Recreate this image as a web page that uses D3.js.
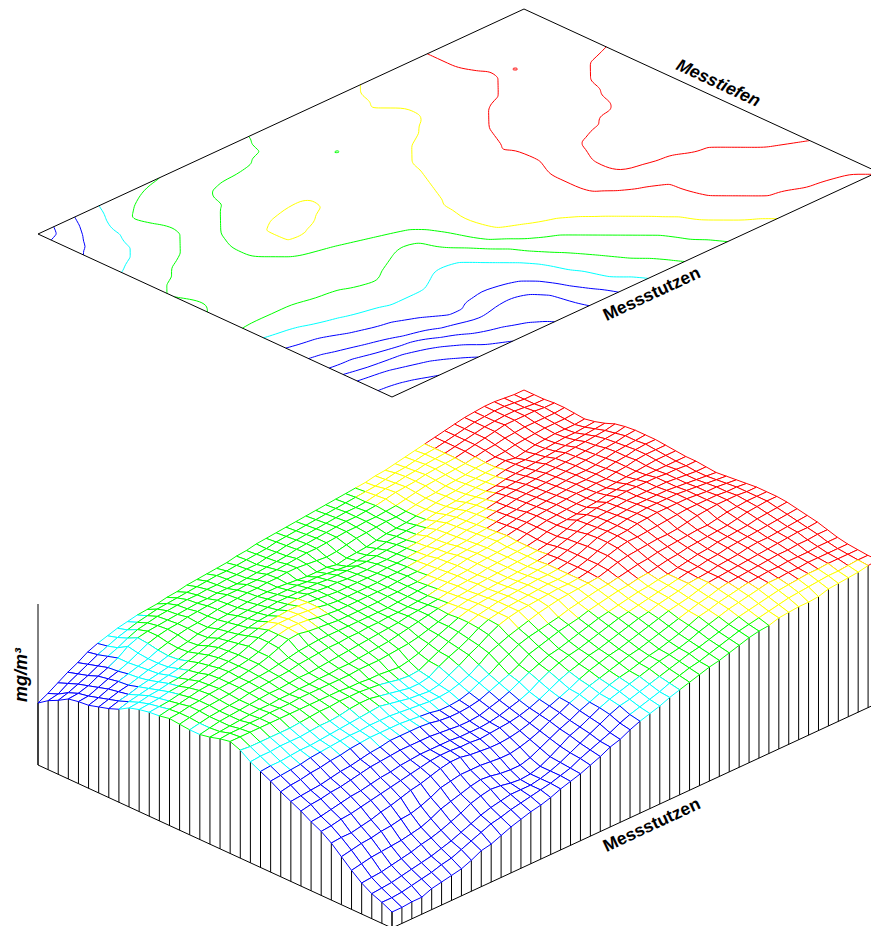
<!DOCTYPE html>
<html>
<head>
<meta charset="utf-8">
<style>
  body { margin: 0; background: #fff; overflow: hidden; }
  text { font-family: "Liberation Sans", Arial, sans-serif; font-weight: bold; font-size: 17.5px; fill: #000; }
</style>
<script src="https://cdn.jsdelivr.net/npm/d3@7"></script>
</head>
<body>
<div id="chart"></div>
<script>
// heights, one row per Messstutzen, one column per Messtiefe
var r0 = [62,67,73,79,84,90,94,97,100,102,104,105,106,108,109,111,112,113,114,115,117,118,120,121,122,123,124,125,126,127,128,129,130,131,133,134,136,138,140,142,144,146,148,150,151,152,152,151,150,150];
var r1 = [69,71,77,82,87,92,96,100,103,106,108,110,111,112,113,114,115,116,116,117,118,119,120,122,123,124,125,126,127,128,129,130,131,132,134,136,137,139,141,142,144,146,148,150,151,152,152,151,150,150];
var r2 = [74,77,81,85,90,95,99,104,108,110,112,113,114,115,115,116,116,117,117,118,118,120,121,123,124,125,126,127,128,129,129,130,132,134,135,137,138,140,141,142,144,146,148,150,151,152,152,151,150,150];
var r3 = [80,81,84,89,93,98,105,109,111,112,113,114,115,116,116,117,117,117,118,119,120,121,122,124,125,126,127,128,129,129,130,131,133,135,136,137,139,140,141,142,144,146,148,150,152,152,152,152,151,151];
var r4 = [82,83,87,91,94,98,103,108,111,113,114,116,117,118,119,120,120,121,121,122,122,123,124,125,125,126,127,128,128,129,129,130,131,133,135,137,138,139,140,141,143,145,146,148,149,150,150,150,150,151];
var r5 = [83,86,90,93,96,99,102,106,109,112,114,115,117,119,120,121,122,122,123,123,124,124,123,122,121,122,124,126,127,128,129,129,130,132,134,135,137,138,139,141,142,143,144,146,147,148,149,149,149,150];
var r6 = [86,89,92,94,97,100,102,105,108,110,113,115,118,119,121,122,123,123,123,122,121,120,120,120,118,120,121,122,124,126,127,128,130,132,134,136,137,139,140,141,142,144,142,144,146,147,148,148,148,149];
var r7 = [89,92,94,97,99,101,103,106,109,111,114,118,120,122,123,124,125,125,125,125,124,124,123,122,121,122,123,125,127,128,129,130,131,133,135,136,138,140,141,142,144,145,145,146,147,148,149,149,150,151];
var r8 = [93,96,98,100,102,104,106,109,112,115,118,120,122,124,125,126,127,127,127,127,127,126,126,126,126,126,127,128,129,129,130,132,134,136,137,139,140,141,142,144,145,146,147,148,149,150,151,152,153,154];
var r9 = [99,100,102,103,105,106,109,112,115,118,120,122,124,126,127,128,129,130,130,129,128,128,127,127,127,128,128,129,130,131,133,135,137,138,140,141,142,144,145,146,147,148,150,151,152,153,154,155,156,158];
var r10 = [102,103,104,106,107,109,111,114,117,119,122,125,128,130,131,132,132,131,130,129,128,128,128,128,128,129,129,130,131,132,134,136,138,139,141,142,144,146,147,148,149,150,151,152,153,154,155,157,158,160];
var r11 = [104,105,106,108,110,112,114,116,118,120,124,128,131,133,133,133,132,131,129,128,128,128,128,128,129,129,130,131,132,134,135,137,139,140,142,144,145,147,148,149,150,151,152,153,154,155,157,158,160,161];
var r12 = [105,107,108,110,112,113,115,117,118,120,123,128,131,133,133,132,130,129,128,128,128,128,128,128,129,130,130,132,134,135,137,138,140,141,143,145,146,148,149,150,151,152,153,153,154,156,158,159,160,161];
var r13 = [107,108,110,111,113,114,115,116,118,120,123,127,131,132,130,129,128,127,127,127,127,127,128,128,129,129,131,133,135,137,138,139,141,142,144,146,148,149,150,151,152,153,153,154,155,157,158,160,161,161];
var r14 = [106,108,110,111,112,113,115,116,117,118,120,122,124,125,126,126,126,126,126,126,126,126,127,128,129,130,132,134,136,138,139,140,142,143,145,147,149,150,151,152,153,153,154,154,156,157,159,160,160,160];
var r15 = [105,107,109,110,111,112,114,115,116,117,118,120,121,122,123,123,124,124,125,125,126,126,127,128,129,131,133,135,136,138,139,140,141,142,145,147,149,150,151,152,153,154,154,155,156,157,158,159,159,159];
var r16 = [105,107,109,110,111,112,113,114,114,115,116,116,117,118,119,120,121,122,123,124,125,127,128,129,130,132,134,135,136,138,139,140,141,142,144,147,149,150,151,153,154,156,157,158,158,158,158,158,158,158];
var r17 = [107,108,109,110,111,112,112,113,113,114,114,115,115,116,116,117,118,119,120,122,124,126,128,130,131,133,134,136,137,138,139,140,141,142,144,147,150,154,155,157,158,159,160,160,160,160,159,159,158,158];
var r18 = [110,111,111,112,112,113,113,113,114,114,114,114,114,114,115,115,115,116,117,118,120,123,126,129,132,134,135,136,137,138,139,140,141,143,146,149,152,155,157,158,159,160,160,160,160,160,159,158,157,157];
var r19 = [112,112,112,112,112,112,112,112,112,112,112,112,111,111,110,110,109,108,110,113,118,122,126,130,133,135,136,137,138,139,140,141,142,144,147,150,154,156,158,159,160,161,161,161,161,160,159,158,157,156];
var r20 = [108,107,107,107,107,107,108,109,110,110,111,111,111,110,109,107,105,104,105,110,115,120,125,130,133,135,137,138,139,140,141,141,142,144,147,151,155,157,158,160,161,162,162,162,162,161,160,159,158,157];
var r21 = [101,102,102,103,103,103,104,105,105,106,108,109,109,107,105,103,101,101,103,109,114,118,123,129,133,135,137,138,139,140,141,141,142,144,147,151,155,157,158,160,161,162,162,162,162,161,160,160,159,158];
var r22 = [96,97,97,98,99,99,100,101,102,103,104,105,106,104,102,100,99,98,100,105,110,116,121,127,132,135,137,138,139,140,141,141,142,144,147,151,154,156,156,157,158,159,160,161,161,161,161,160,160,159];
var r23 = [91,92,93,94,96,97,98,99,100,100,101,101,101,100,99,98,97,97,98,101,105,111,118,122,126,129,132,135,137,139,140,141,142,143,146,149,151,152,153,154,154,155,157,159,160,161,161,161,160,160];
var r24 = [85,87,88,90,91,93,94,96,97,98,98,98,98,97,96,95,93,93,94,97,102,106,112,117,122,125,127,129,131,134,136,138,140,141,143,145,147,148,150,151,152,153,154,154,156,158,159,160,160,160];
var r25 = [80,81,82,83,85,87,88,90,92,93,95,95,95,95,94,92,91,91,92,94,98,102,106,111,117,120,123,126,128,130,133,135,137,139,140,142,143,145,147,148,150,151,152,153,154,156,158,159,160,160];
var r26 = [75,77,78,80,81,83,85,87,88,89,90,90,90,90,89,88,87,87,88,91,94,98,103,108,112,116,118,121,124,127,130,132,134,136,138,139,141,142,144,146,148,149,151,152,153,154,156,157,158,159];
var r27 = [69,70,72,74,76,77,79,81,82,84,85,86,86,86,86,85,85,85,86,88,91,94,98,104,109,113,116,118,121,124,127,130,132,134,136,138,140,142,144,145,147,148,150,151,152,153,154,155,156,157];
var r28 = [64,65,67,68,70,72,74,76,78,80,82,84,85,85,84,84,83,84,85,86,88,91,95,100,105,109,112,116,118,121,124,127,130,132,135,137,139,142,143,144,146,147,148,150,151,151,152,153,154,155];
var r29 = [57,58,58,60,62,65,67,70,73,75,78,81,83,83,81,80,79,79,80,82,85,89,93,97,101,106,110,113,116,118,121,124,127,130,133,135,137,140,143,144,145,146,147,148,149,150,151,152,152,153];
var r30 = [48,50,52,53,55,56,58,59,62,66,71,73,75,75,75,74,73,73,75,78,82,87,91,96,100,104,107,110,113,116,118,121,124,127,130,133,136,138,141,143,144,145,146,147,148,148,149,149,150,150];
var r31 = [39,41,43,44,45,46,48,50,54,59,62,65,68,70,69,67,66,66,69,74,79,84,88,93,97,101,105,108,110,113,116,118,121,124,128,132,134,137,139,141,143,144,145,145,146,146,146,147,147,147];
var r32 = [31,32,33,35,37,39,42,44,47,51,55,60,63,65,64,62,61,62,65,70,76,82,86,91,96,100,103,106,109,112,115,117,119,122,126,129,132,135,137,139,141,143,143,144,144,145,145,145,145,145];
var r33 = [25,26,27,29,31,33,35,38,41,45,49,53,56,58,60,60,60,62,65,69,74,79,84,89,94,98,100,103,106,109,112,115,118,120,123,126,129,132,134,136,138,140,141,142,143,143,144,144,144,144];
var r34 = [21,21,22,24,26,28,31,33,37,41,45,49,51,54,56,58,60,62,65,68,73,77,81,85,90,94,97,100,103,107,110,113,115,118,121,124,127,129,131,133,135,137,138,139,140,141,141,142,143,143];
var r35 = [16,16,17,17,21,23,25,27,31,36,38,42,46,49,52,54,57,61,64,67,71,75,80,83,88,92,95,98,102,105,108,111,114,116,119,122,125,127,128,131,132,133,133,134,137,138,139,140,142,143];

var rows = [r0,r1,r2,r3,r4,r5,r6,r7,r8,r9,r10,r11,r12,r13,r14,r15,r16,r17,r18,r19,r20,r21,r22,r23,r24,r25,r26,r27,r28,r29,r30,r31,r32,r33,r34,r35];

var levels = [22.5,34.5,46.5,58.5,70.5,82.5,94.5,106.5,118.5,130.5,142.5,154.5];
var bandLimits = [94.5,106.5,130.5,142.5];
var bandColors = ["#0000ff","#00ffff","#00ff00","#ffff00","#ff0000"];
var axisMax = 161;

var width = 871, height = 926;
var nI = rows.length, nJ = r0.length;

var svg = d3.select("#chart").append("svg")
    .attr("width", width)
    .attr("height", height)
    .style("display", "block");

// the two plots share one oblique projection
var xI = d3.scaleLinear().domain([0, nI - 1]).range([0, 354]);
var yI = d3.scaleLinear().domain([0, nI - 1]).range([0, 163]);
var xJ = d3.scaleLinear().domain([0, nJ - 1]).range([0, 486]);
var yJ = d3.scaleLinear().domain([0, nJ - 1]).range([0, -225]);
var zScale = d3.scaleLinear().domain([0, axisMax]).range([0, 161]);
var color = d3.scaleThreshold().domain(bandLimits).range(bandColors);

var mapOrigin = [38, 234], surfOrigin = [38, 765];

function flat(origin, i, j) {
	return [origin[0] + xI(i) + xJ(j), origin[1] + yI(i) + yJ(j)];
}
function surf(i, j) {
	var p = flat(surfOrigin, i, j);
	return [p[0], p[1] - zScale(rows[i][j])];
}

var line = d3.line();

/* contour map */
var corners = [[0,0],[nI-1,0],[nI-1,nJ-1],[0,nJ-1],[0,0]];
var mapG = svg.append("g");

var contours = d3.contours()
    .size([nJ, nI])
    .smooth(true)
    .thresholds(levels)(d3.merge(rows));

var contourLine = d3.line().curve(d3.curveBasis);

// d3.contours closes its rings along the grid border, cut those parts away
function openRing(ring) {
	var outside = function(p) {
		return p[0] < 0.49 || p[0] > nJ - 0.49 || p[1] < 0.49 || p[1] > nI - 0.49;
	};
	var start = ring.findIndex(outside);
	if (start < 0) return [ring];
	var pieces = [], cur = [];
	for (var k = 0; k < ring.length; k++) {
		var p = ring[(start + k) % ring.length];
		if (outside(p)) {
			if (cur.length > 1) pieces.push(cur);
			cur = [];
		} else {
			cur.push(p);
		}
	}
	if (cur.length > 1) pieces.push(cur);
	return pieces;
}

contours.forEach(function(c) {
	c.coordinates.forEach(function(poly) {
		poly.forEach(function(ring) {
			openRing(ring).forEach(function(piece) {
				var pts = piece.map(function(p) {
					return flat(mapOrigin, p[1] - 0.5, p[0] - 0.5);
				});
				mapG.append("path")
				    .attr("d", contourLine(pts))
				    .attr("fill", "none")
				    .attr("stroke", color(c.value))
				    .attr("stroke-width", 1);
			});
		});
	});
});

mapG.append("path")
    .attr("d", line(corners.map(function(c) { return flat(mapOrigin, c[0], c[1]); })))
    .attr("fill", "none")
    .attr("stroke", "#000")
    .attr("stroke-width", 1);

/* walls under the surface */
var wallG = svg.append("g").attr("stroke", "#000").attr("stroke-width", 1);

wallG.selectAll(".leftWall")
    .data(d3.range(nI))
    .enter().append("line")
    .attr("class", "leftWall")
    .attr("x1", function(i) { return flat(surfOrigin, i, 0)[0]; })
    .attr("y1", function(i) { return flat(surfOrigin, i, 0)[1]; })
    .attr("x2", function(i) { return surf(i, 0)[0]; })
    .attr("y2", function(i) { return surf(i, 0)[1]; });

wallG.selectAll(".rightWall")
    .data(d3.range(nJ))
    .enter().append("line")
    .attr("class", "rightWall")
    .attr("x1", function(j) { return flat(surfOrigin, nI - 1, j)[0]; })
    .attr("y1", function(j) { return flat(surfOrigin, nI - 1, j)[1]; })
    .attr("x2", function(j) { return surf(nI - 1, j)[0]; })
    .attr("y2", function(j) { return surf(nI - 1, j)[1]; });

wallG.append("path")
    .attr("d", line([flat(surfOrigin, 0, 0), flat(surfOrigin, nI - 1, 0), flat(surfOrigin, nI - 1, nJ - 1)]))
    .attr("fill", "none");

// height axis at the left corner
wallG.append("line")
    .attr("x1", surfOrigin[0])
    .attr("x2", surfOrigin[0])
    .attr("y1", surfOrigin[1])
    .attr("y2", surfOrigin[1] - zScale(axisMax));

/* wire mesh, back to front with white cells so nearer cells hide farther ones */
var cells = [];
for (var i = 0; i < nI - 1; i++) {
	for (var j = nJ - 2; j >= 0; j--) {
		cells.push({i: i, j: j, h: (rows[i][j] + rows[i+1][j] + rows[i+1][j+1] + rows[i][j+1]) / 4});
	}
}

svg.append("g").selectAll(".cell")
    .data(cells)
    .enter().append("path")
    .attr("class", "cell")
    .attr("d", function(d) {
    	return line([surf(d.i, d.j), surf(d.i + 1, d.j), surf(d.i + 1, d.j + 1), surf(d.i, d.j + 1)]) + "Z";
    })
    .attr("fill", "#fff")
    .attr("stroke", function(d) { return color(d.h); })
    .attr("stroke-width", 1)
    .attr("stroke-linejoin", "round");

/* labels */
function label(txt, x, y, angle, italic, size) {
	svg.append("text")
	    .text(txt)
	    .attr("text-anchor", "middle")
	    .attr("font-style", italic ? "italic" : "normal")
	    .style("font-size", size + "px")
	    .attr("transform", "translate(" + x + "," + y + ") rotate(" + angle + ")");
}
label("Messtiefen", 716, 88, 25, true, 17.5);
label("Messstutzen", 654, 299, -25, false, 17.5);
label("Messstutzen", 654, 830, -25, false, 17.5);
label("mg/m³", 27, 675, -90, true, 18);
</script>
</body>
</html>
